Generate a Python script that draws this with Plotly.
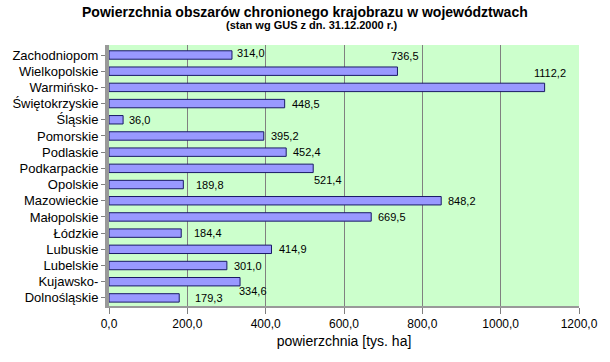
import plotly.graph_objects as go

categories = ["Zachodniopom", "Wielkopolskie", "Warmińsko-", "Świętokrzyskie", "Śląskie",
              "Pomorskie", "Podlaskie", "Podkarpackie", "Opolskie", "Mazowieckie",
              "Małopolskie", "Łódzkie", "Lubuskie", "Lubelskie", "Kujawsko-", "Dolnośląskie"]
values = [314.0, 736.5, 1112.2, 448.5, 36.0, 395.2, 452.4, 521.4, 189.8, 848.2,
          669.5, 184.4, 414.9, 301.0, 334.6, 179.3]
tick_vals = [0, 200, 400, 600, 800, 1000, 1200]
tick_text = ["0,0", "200,0", "400,0", "600,0", "800,0", "1000,0", "1200,0"]

# label placement style (pixel shifts), not data
label_dx = [4, -7, -12, 6, 5, 6, 6, 0, 12, 6, 6, 12, 6, 6, -2, 15]
label_dy = [2, 15, 14, 0, 0, 0, 0, -12, 0, 0, 0, 0, 0, 0, -9, 0]

FONT = "Arial, Liberation Sans, sans-serif"

fig = go.Figure()
fig.add_trace(go.Bar(
    y=categories, x=values, orientation="h",
    marker=dict(color="#9999ff", line=dict(color="#1a1a66", width=1)),
    width=0.52, hoverinfo="x+y",
))

annotations = []
for c, v, dx, dy in zip(categories, values, label_dx, label_dy):
    annotations.append(dict(
        x=v, y=c, xref="x", yref="y", text=f"{v:.1f}".replace(".", ","),
        showarrow=False, xanchor="left", yanchor="middle", xshift=dx - 1, yshift=dy,
        font=dict(family=FONT, size=11, color="black"),
    ))

annotations.append(dict(
    x=0.418, y=1, xref="paper", yref="paper", yshift=33,
    text="<b>Powierzchnia obszarów chronionego krajobrazu w województwach</b>",
    showarrow=False, xanchor="center", yanchor="middle",
    font=dict(family=FONT, size=14, color="black"),
))
annotations.append(dict(
    x=0.432, y=1, xref="paper", yref="paper", yshift=20,
    text="<b>(stan wg GUS z dn. 31.12.2000 r.)</b>",
    showarrow=False, xanchor="center", yanchor="middle",
    font=dict(family=FONT, size=11, color="black"),
))

fig.update_layout(
    width=610, height=362,
    margin=dict(l=101, r=23, t=45, b=56),
    paper_bgcolor="white",
    plot_bgcolor="#ccffcc",
    showlegend=False,
    annotations=annotations,
    xaxis=dict(
        range=[0, 1200], tickvals=tick_vals, ticktext=tick_text,
        showgrid=True, gridcolor="#808080", gridwidth=1,
        zeroline=False, showline=True, linecolor="#999999", linewidth=2,
        ticks="outside", ticklen=6, tickcolor="#808080",
        tickfont=dict(family=FONT, size=12, color="black"),
        title=dict(text="powierzchnia [tys. ha]", font=dict(family=FONT, size=14, color="black"),
                   standoff=6),
        fixedrange=True,
    ),
    yaxis=dict(
        categoryorder="array", categoryarray=categories[::-1],
        tickmode="array", tickvals=categories, ticktext=categories,
        showline=True, linecolor="#999999", linewidth=4,
        ticks="outside", ticklen=4, tickcolor="#808080",
        tickfont=dict(family=FONT, size=13, color="black"),
        showgrid=False, fixedrange=True,
    ),
)

fig.write_html("out.html", post_script="document.body.style.margin='0';",
               config={"displayModeBar": False})
